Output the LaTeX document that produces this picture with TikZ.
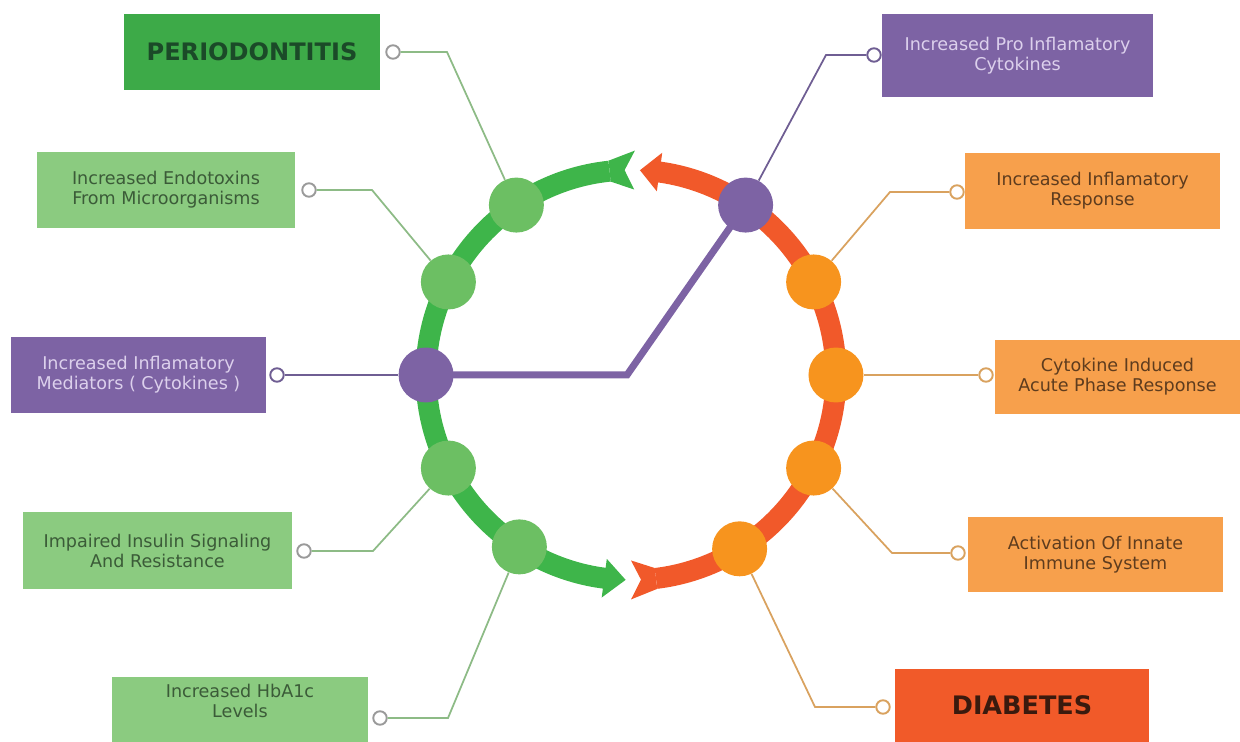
\documentclass[tikz,border=0pt]{standalone}
\usepackage{fontspec}
\setmainfont{DejaVu Sans}
\usetikzlibrary{calc}
\definecolor{ringG}{HTML}{3EB54A}
\definecolor{nodeG}{HTML}{6CBF63}
\definecolor{ringO}{HTML}{F1592A}
\definecolor{nodeO}{HTML}{F7941E}
\definecolor{purp}{HTML}{7D63A4}
\definecolor{boxG}{HTML}{8BCB80}
\definecolor{boxGd}{HTML}{3DAA48}
\definecolor{boxO}{HTML}{F7A04C}
\definecolor{boxOd}{HTML}{F15A29}
\definecolor{txtG}{HTML}{3B5B38}
\definecolor{txtO}{HTML}{5E3C1E}
\definecolor{txtP}{HTML}{DCD0EC}
\definecolor{txtGd}{HTML}{1B4A28}
\definecolor{txtOd}{HTML}{3A1A0E}
\definecolor{lnG}{HTML}{8DBB86}
\definecolor{lnO}{HTML}{D9A25F}
\definecolor{lnP}{HTML}{6F5E93}
\definecolor{dotc}{HTML}{9A9A9A}
\tikzset{
  box/.style={rectangle, inner sep=0pt, align=center, font=\fontsize{10}{11.4}\selectfont},
  gbox/.style={box, fill=boxG, text=txtG},
  obox/.style={box, fill=boxO, text=txtO},
  pbox/.style={box, fill=purp, text=txtP},
  title/.style={box, font=\fontsize{13.7}{16}\selectfont\bfseries},
  ringnode/.style={circle, minimum size=1.1cm, inner sep=0pt},
  dot/.style={circle, draw, fill=white, line width=1.1pt, minimum size=0.27cm, inner sep=0pt},
  conn/.style={line width=1pt},
}
\begin{document}
\begin{tikzpicture}[x=0.02cm,y=-0.02cm]
\useasboundingbox (0,0) rectangle (1240,742);
\coordinate (C) at (631,375);
% ring arcs
\draw[line width=0.42cm, ringG] ($(C)+(96:4.1cm)$) arc[start angle=96, end angle=264, radius=4.1cm];
\draw[line width=0.42cm, ringO] ($(C)+(-83:4.1cm)$) arc[start angle=-83, end angle=82.5, radius=4.1cm];
% green head (bottom) and tail (top)
\fill[ringG] ($(C)+(262.5:4.49cm)$) -- ($(C)+(268.5:4.1cm)$) -- ($(C)+(262.5:3.71cm)$) -- cycle;
\fill[ringG] ($(C)+(96:4.31cm)$) -- ($(C)+(89:4.49cm)$) -- ($(C)+(91.8:4.1cm)$) -- ($(C)+(89:3.71cm)$) -- ($(C)+(96:3.89cm)$) -- cycle;
% orange head (top) and tail (bottom)
\fill[ringO] ($(C)+(82:4.49cm)$) -- ($(C)+(87.5:4.1cm)$) -- ($(C)+(82:3.71cm)$) -- cycle;
\fill[ringO] ($(C)+(-83:4.31cm)$) -- ($(C)+(-90:4.49cm)$) -- ($(C)+(-87.2:4.1cm)$) -- ($(C)+(-90:3.71cm)$) -- ($(C)+(-83:3.89cm)$) -- cycle;
% ring nodes
\node[ringnode, fill=nodeG] (g1) at ($(C)+(124:4.1cm)$) {};
\node[ringnode, fill=nodeG] (g2) at ($(C)+(153:4.1cm)$) {};
\node[ringnode, fill=nodeG] (g4) at ($(C)+(207:4.1cm)$) {};
\node[ringnode, fill=nodeG] (g5) at ($(C)+(237:4.1cm)$) {};
\node[ringnode, fill=nodeO] (o2) at ($(C)+(27:4.1cm)$) {};
\node[ringnode, fill=nodeO] (o3) at ($(C)+(0:4.1cm)$) {};
\node[ringnode, fill=nodeO] (o4) at ($(C)+(-27:4.1cm)$) {};
\node[ringnode, fill=nodeO] (o5) at ($(C)+(-58:4.1cm)$) {};
% thick purple link
\coordinate (pbend) at (627,375);
\draw[line width=0.14cm, purp] ($(C)+(180:4.1cm)$) -- (pbend) -- ($(C)+(56:4.1cm)$);
\node[ringnode, fill=purp]  (g3) at ($(C)+(180:4.1cm)$) {};
\node[ringnode, fill=purp]  (o1) at ($(C)+(56:4.1cm)$) {};
% boxes left
\node[title, fill=boxGd, text=txtGd, minimum width=5.12cm, minimum height=1.52cm] (bP) at (252,52) {PERIODONTITIS};
\node[gbox, minimum width=5.16cm, minimum height=1.52cm] (bE) at (166,190) {Increased Endotoxins\\From Microorganisms};
\node[pbox, minimum width=5.10cm, minimum height=1.52cm] (bM) at (138.5,375) {Increased Inflamatory\\Mediators ( Cytokines )};
\node[gbox, minimum width=5.38cm, minimum height=1.54cm] (bI) at (157.5,550.5) {Impaired Insulin Signaling\\And Resistance};
\node[gbox, minimum width=5.12cm, minimum height=1.30cm] (bH) at (240,709.5) {};
\node[box, text=txtG] (tH) at (240,701) {Increased HbA1c\\Levels};
% boxes right
\node[pbox, minimum width=5.42cm, minimum height=1.66cm] (bR1) at (1017.5,55.5) {Increased Pro Inflamatory\\Cytokines};
\node[obox, minimum width=5.10cm, minimum height=1.52cm] (bR2) at (1092.5,191) {Increased Inflamatory\\Response};
\node[obox, minimum width=4.90cm, minimum height=1.50cm] (bR3) at (1117.5,377) {Cytokine Induced\\Acute Phase Response};
\node[obox, minimum width=5.10cm, minimum height=1.50cm] (bR4) at (1095.5,554.5) {Activation Of Innate\\Immune System};
\node[title, fill=boxOd, text=txtOd, minimum width=5.08cm, minimum height=1.46cm, font=\fontsize{14.5}{17}\selectfont\bfseries] (bD) at (1022,705.5) {DIABETES};
% small dots
\node[dot, draw=dotc] (dP) at (393,52) {};
\node[dot, draw=dotc] (dE) at (309,190) {};
\node[dot, draw=lnP]  (dM) at (277,375) {};
\node[dot, draw=dotc] (dI) at (304,551) {};
\node[dot, draw=dotc] (dH) at (380,718) {};
\node[dot, draw=lnP]  (dR1) at (874,55) {};
\node[dot, draw=lnO]  (dR2) at (957,192) {};
\node[dot, draw=lnO]  (dR3) at (986,375) {};
\node[dot, draw=lnO]  (dR4) at (958,553) {};
\node[dot, draw=lnO]  (dD) at (883,707) {};
% bends
\coordinate (kP) at (447,52);
\coordinate (kE) at (372,190);
\coordinate (kI) at (373,551);
\coordinate (kH) at (448,718);
\coordinate (kR1) at (826,55);
\coordinate (kR2) at (890,192);
\coordinate (kR4) at (892,553);
\coordinate (kD) at (815,707);
% connectors
\draw[conn, lnG] (dP) -- (kP) -- (g1);
\draw[conn, lnG] (dE) -- (kE) -- (g2);
\draw[conn, lnP] (dM) -- (g3);
\draw[conn, lnG] (dI) -- (kI) -- (g4);
\draw[conn, lnG] (dH) -- (kH) -- (g5);
\draw[conn, lnP] (dR1) -- (kR1) -- (o1);
\draw[conn, lnO] (dR2) -- (kR2) -- (o2);
\draw[conn, lnO] (dR3) -- (o3);
\draw[conn, lnO] (dR4) -- (kR4) -- (o4);
\draw[conn, lnO] (dD) -- (kD) -- (o5);
\end{tikzpicture}
\end{document}
